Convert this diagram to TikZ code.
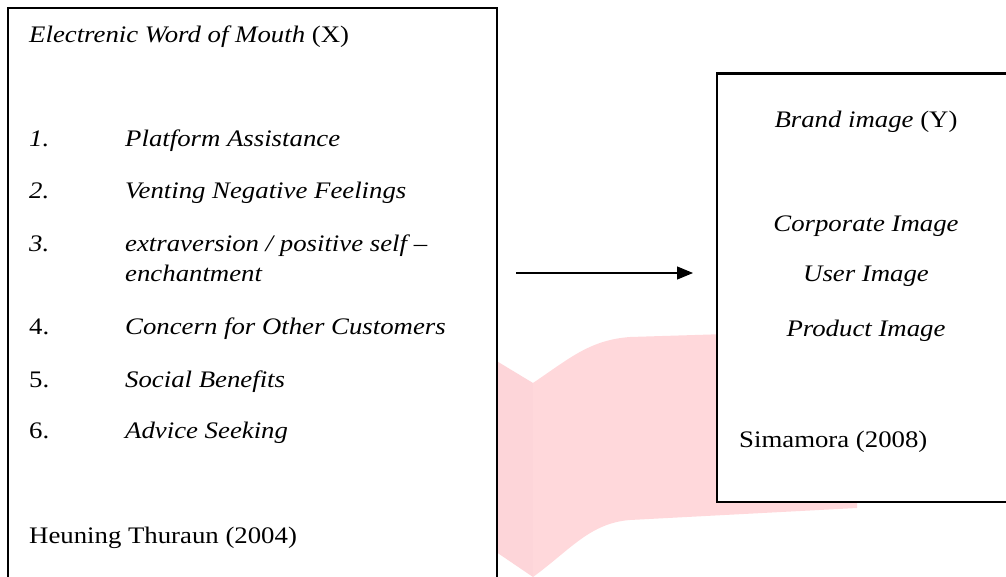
\documentclass[tikz,border=0pt]{standalone}
\usepackage{fontspec}
\setmainfont[FakeStretch=1.13]{Liberation Serif}
\usetikzlibrary{arrows.meta}

\definecolor{wmleft}{RGB}{253,213,217}
\definecolor{wmright}{RGB}{255,216,219}

\begin{document}
\begin{tikzpicture}[x=1pt,y=-1pt,
    frame/.style={draw,line width=2.7pt,fill=white,inner sep=0pt,outer sep=0pt},
    txt/.style={inner sep=0pt,anchor=base west,font=\fontsize{23.7}{28}\selectfont},
    ctxt/.style={txt,anchor=base},
    flow/.style={line width=1.1pt,-{Triangle[length=16pt,width=13pt]}}]
    \fill[white] (0,0) rectangle (1006,577);
    \clip (0,0) rectangle (1006,577);
    % watermark behind the boxes
    \fill[wmleft] (533,383) -- (480,351) -- (480,541) -- (533,577) -- cycle;
    \fill[wmright] (533,383) .. controls (570,358) and (590,340) .. (630,337)
      -- (857,330) -- (857,508) -- (630,520)
      .. controls (590,523) and (570,550) .. (533,577) -- cycle;
    % boxes
    \node[frame,minimum width=489pt,minimum height=582pt] (xbox) at (252.5,299) {};
    \node[frame,minimum width=298pt,minimum height=428.5pt] (ybox) at (866,287.75) {};
    % left box text
    \node[txt] (xtitle) at (29,43) {\emph{Electrenic Word of Mouth} (X)};
    \node[txt] (n1) at (29,147) {\emph{1.}};
    \node[txt] (it1) at (125,147) {\emph{Platform Assistance}};
    \node[txt] (n2) at (29,199) {\emph{2.}};
    \node[txt] (it2) at (125,199) {\emph{Venting Negative Feelings}};
    \node[txt] (n3) at (29,252) {\emph{3.}};
    \node[txt] (it3) at (125,252) {\emph{extraversion / positive self –}};
    \node[txt] (it3b) at (125,282) {\emph{enchantment}};
    \node[txt] (n4) at (29,334) {4.};
    \node[txt] (it4) at (125,334) {\emph{Concern for Other Customers}};
    \node[txt] (n5) at (29,387) {5.};
    \node[txt] (it5) at (125,387) {\emph{Social Benefits}};
    \node[txt] (n6) at (29,438) {6.};
    \node[txt] (it6) at (125,438) {\emph{Advice Seeking}};
    \node[txt] (xsource) at (29,543) {Heuning Thuraun (2004)};
    % right box text
    \node[ctxt] (ytitle) at (866,128) {\emph{Brand image} (Y)};
    \node[ctxt] (y1) at (866,232) {\emph{Corporate Image}};
    \node[ctxt] (y2) at (866,282) {\emph{User Image}};
    \node[ctxt] (y3) at (866,336) {\emph{Product Image}};
    \node[txt] (ysource) at (739,447) {Simamora (2008)};
    % arrow
    \coordinate (arrowy) at (0,273);
    \draw[flow,shorten <=19pt,shorten >=24pt] (xbox.east |- arrowy) -- (ybox.west |- arrowy);
\end{tikzpicture}
\end{document}
